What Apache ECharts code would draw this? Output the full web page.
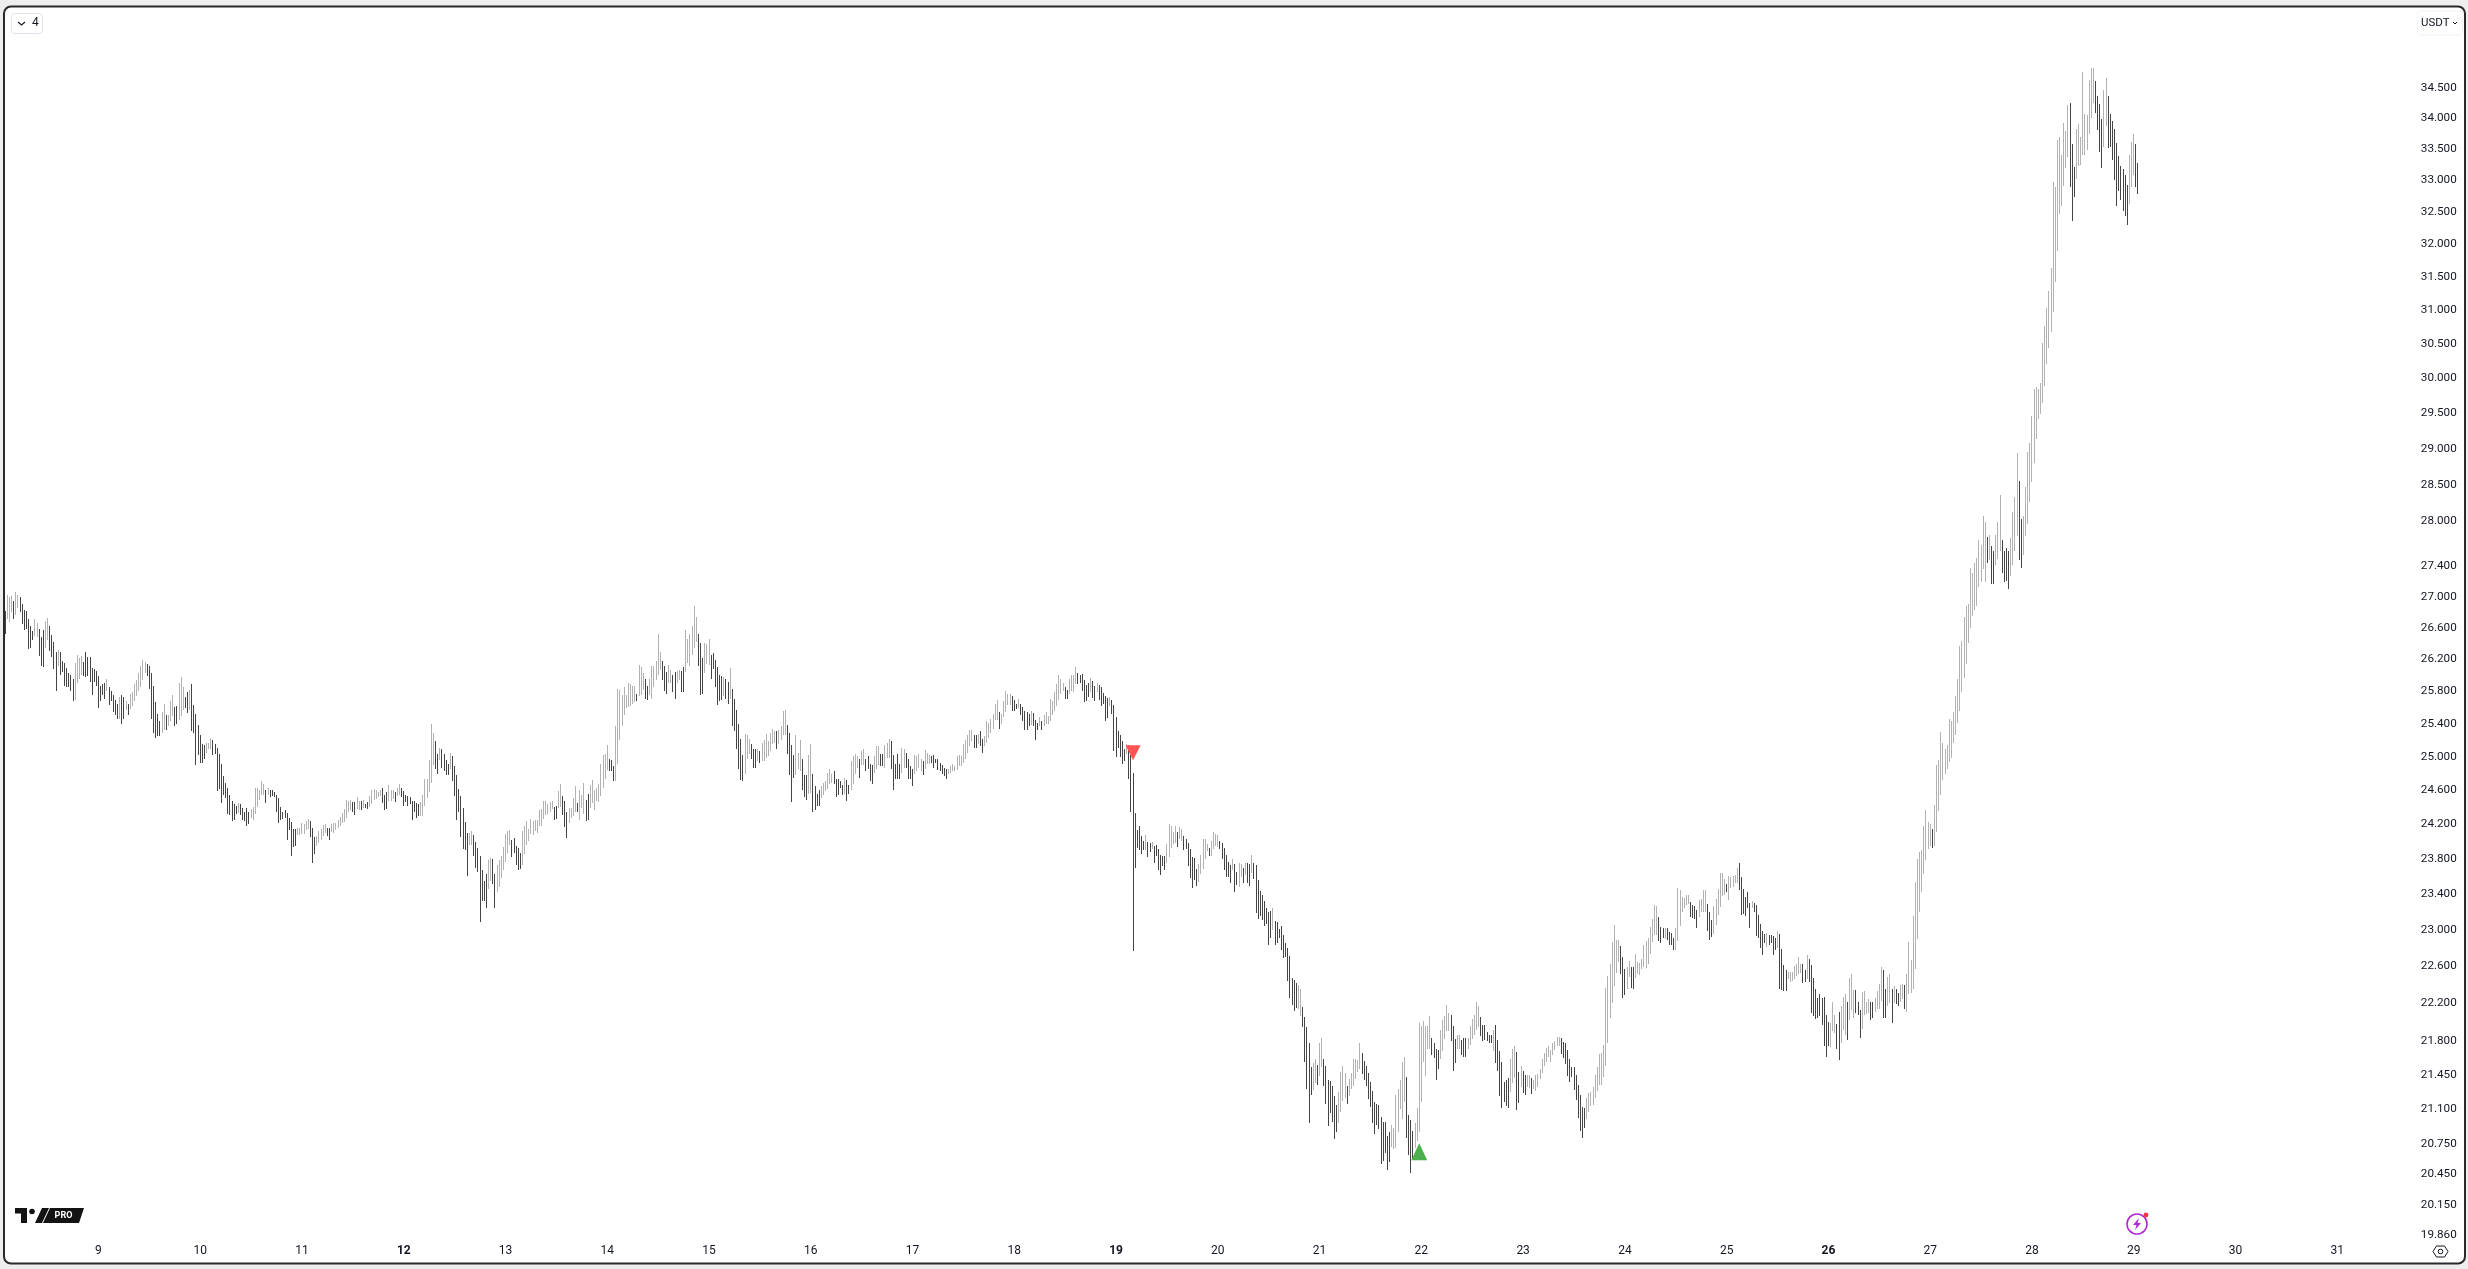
<!DOCTYPE html>
<html><head><meta charset="utf-8">
<style>html,body{margin:0;padding:0;background:#eeeeee}#c{width:2468px;height:1269px}</style>
<script src="https://cdn.jsdelivr.net/npm/echarts@6/dist/echarts.min.js"></script>
</head><body><div id="c"></div>
<script>
// Each bar is [first value, last value]: rising bars go low->high, falling bars go high->low.
const bars9to12 = [
26.82,26.53,26.71,27.03,26.68,27.0,26.81,27.02,26.95,26.72,26.77,27.06,26.86,27.03,27.0,26.8,26.91,26.65,26.83,26.58,
26.82,26.59,26.72,26.33,26.62,26.35,26.56,26.45,26.5,26.72,26.49,26.67,26.59,26.24,26.49,26.12,26.58,26.1,26.35,26.69,
26.45,26.73,26.62,26.31,26.51,26.23,26.42,26.08,26.3,25.81,26.12,26.32,26.3,26.01,26.18,26.04,26.15,25.87,26.09,25.85,
26.03,25.86,26.01,25.8,25.96,25.68,25.69,26.15,25.9,26.26,25.95,26.22,26.01,26.24,26.17,25.99,26.3,25.98,26.23,25.99,
26.23,25.92,26.09,25.75,26.08,25.92,26.05,25.87,25.99,25.59,25.87,25.68,25.89,25.76,25.9,25.71,25.8,25.96,25.85,25.63,
25.8,25.68,25.76,25.55,25.7,25.51,25.64,25.46,25.46,25.73,25.75,25.4,25.73,25.46,25.57,25.68,25.64,25.51,25.58,25.77,
25.62,25.79,25.68,25.89,25.74,25.94,25.8,26.03,25.85,26.12,25.94,26.19,26.03,26.17,26.14,25.99,26.12,25.83,26.03,25.46,
25.87,25.29,25.67,25.23,25.52,25.25,25.43,25.25,25.29,25.55,25.33,25.64,25.51,25.32,25.38,25.51,25.44,25.68,25.5,25.75,
25.61,25.37,25.62,25.4,25.45,25.91,25.5,25.98,25.57,25.86,25.73,25.59,25.79,25.53,25.57,25.82,25.89,25.31,25.63,25.29,
25.52,24.9,25.39,25.02,25.26,24.93,25.16,24.93,25.14,24.98,25.05,25.17,25.09,25.17,25.1,25.23,25.21,25.02,25.15,25.03,
25.11,24.59,25.04,24.62,24.91,24.45,24.77,24.55,24.69,24.51,24.63,24.32,24.54,24.31,24.47,24.24,24.44,24.25,24.42,24.32,
24.33,24.45,24.44,24.31,24.39,24.25,24.35,24.24,24.39,24.18,24.35,24.2,24.27,24.38,24.25,24.4,24.32,24.63,24.4,24.63,
24.49,24.61,24.54,24.71,24.54,24.68,24.61,24.45,24.55,24.63,24.61,24.52,24.6,24.53,24.58,24.52,24.55,24.35,24.51,24.22,
24.4,24.25,24.35,24.26,24.37,24.28,24.33,24.02,24.27,24.13,24.23,23.83,24.15,23.94,24.15,23.95,24.08,24.16,24.08,24.16,
24.09,24.22,24.09,24.2,24.13,24.24,24.15,24.26,24.24,24.05,24.16,23.75,24.05,23.86,23.95,24.06,23.99,24.12,24.02,24.15,
24.06,24.19,24.1,24.2,24.16,24.06,24.16,24.02,24.11,24.2,24.1,24.22,24.13,24.22,24.16,24.25,24.18,24.29,24.22,24.33,
24.23,24.38,24.27,24.49,24.34,24.48,24.37,24.49,24.46,24.34,24.46,24.31,24.38,24.52,24.37,24.47,24.47,24.37,24.39,24.49,
24.44,24.39,24.46,24.38,24.4,24.53,24.44,24.61,24.49,24.62,24.5,24.61,24.52,24.58,24.53,24.61,24.63,24.45,24.55,24.37,
24.58,24.38,24.47,24.66,24.48,24.61,24.5,24.61,24.58,24.46,24.53,24.63,24.55,24.67
];
const bars12to15 = [
24.63,24.52,24.59,24.41,24.55,24.46,24.53,24.42,24.52,24.44,24.48,24.25,24.47,24.35,24.45,24.27,24.44,24.3,24.3,24.46,
24.3,24.55,24.41,24.74,24.51,24.74,24.58,24.96,24.69,25.4,24.9,25.29,25.19,24.86,25.03,24.79,24.96,25.11,25.09,24.87,
25.03,24.83,24.96,24.78,24.91,24.78,24.86,25.05,25.01,24.71,24.89,24.53,24.78,24.25,24.62,24.35,24.53,24.05,24.39,23.91,
24.23,23.9,24.1,23.61,23.96,24.1,23.96,24.12,24.08,23.83,24.0,23.7,23.93,23.65,23.84,23.09,23.68,23.32,23.55,23.32,
23.63,23.24,23.46,23.79,23.55,23.81,23.8,23.51,23.63,23.24,23.43,23.73,23.48,23.79,23.58,23.83,23.68,23.94,23.77,24.09,
23.87,24.12,23.96,24.13,24.02,23.82,24.04,23.87,23.95,23.73,23.93,23.68,23.87,23.69,23.73,24.12,23.86,24.18,23.96,24.24,
24.01,24.15,24.09,24.26,24.08,24.24,24.12,24.25,24.1,24.25,24.18,24.37,24.18,24.38,24.26,24.48,24.31,24.47,24.32,24.44,
24.35,24.46,24.38,24.48,24.4,24.25,24.41,24.26,24.39,24.59,24.4,24.67,24.53,24.31,24.47,24.17,24.35,24.04,24.22,24.39,
24.27,24.39,24.3,24.51,24.34,24.65,24.45,24.34,24.25,24.6,24.39,24.54,24.32,24.69,24.49,24.24,24.56,24.25,24.39,24.66,
24.45,24.72,24.37,24.61,24.48,24.63,24.46,24.68,24.53,24.91,24.63,25.02,24.74,25.03,24.84,25.14,24.97,24.83,24.96,24.83,
24.89,24.71,24.71,25.38,24.91,25.83,25.21,25.82,25.37,25.75,25.51,25.85,25.59,25.76,25.61,25.9,25.62,25.89,25.64,25.87,
25.67,25.87,25.77,25.68,25.74,26.13,25.76,26.1,25.82,26.03,25.95,25.71,25.87,25.7,25.75,25.95,25.71,26.12,25.86,26.12,
25.94,26.18,26.0,26.53,26.07,26.3,26.18,25.94,26.12,25.81,26.04,25.77,25.9,26.13,25.91,26.07,26.0,25.79,26.04,25.71,
25.9,26.05,25.94,26.07,26.05,25.79,26.1,25.79,26.04,26.58,26.15,26.46,26.12,26.53,26.26,26.63,26.35,26.89,26.42,26.74,
26.53,26.12,26.41,25.76,26.22,25.77,26.03,26.41,26.14,26.4,26.13,26.46,26.26,25.96,26.28,26.08,26.19,25.86,26.1,25.63,
26.01,25.68,25.99,25.69,25.74,25.98,25.96,25.71,25.92,25.65,25.71,26.09,25.83,25.37,25.71,25.31,25.57,25.09,25.4,24.86,
25.22,24.72,25.02,24.71,24.79,25.28,24.97,25.27,25.03,25.22,25.16,24.97,25.1,24.87,25.1,24.87,24.95,25.1,25.07,24.93,
24.95,25.17,24.95,25.21,24.99,25.28,25.01,25.19,25.07,25.29,25.16,25.34,25.17,25.31,25.31,25.1,25.15,25.32,25.21,25.37,
25.26,25.56,25.26,25.57,25.39,25.04,25.29,24.78,25.14,24.46,25.02,24.75,24.78,25.27,24.85,25.05
];
const bars15to18 = [
24.83,25.21,24.97,24.61,24.78,24.52,24.78,24.49,24.56,25.02,24.57,25.15,24.79,24.34,24.65,24.37,24.56,24.41,24.61,24.41,
24.51,24.65,24.54,24.69,24.59,24.71,24.62,24.81,24.68,24.85,24.69,24.8,24.83,24.67,24.74,24.52,24.73,24.54,24.71,24.63,
24.66,24.55,24.56,24.75,24.72,24.47,24.66,24.56,24.6,24.95,24.68,25.01,24.8,25.04,24.87,25.01,24.98,24.75,24.9,25.07,
24.9,25.1,24.98,24.83,25.01,24.85,24.92,24.71,24.9,24.68,24.81,25.01,24.86,25.13,24.9,25.13,25.04,24.89,25.04,24.89,
24.87,25.14,24.99,25.17,24.99,25.22,25.19,24.85,25.02,24.6,24.92,24.73,25.04,24.74,24.92,24.74,24.81,25.11,24.87,25.1,
25.05,24.87,24.97,24.73,24.89,24.73,24.86,24.65,24.8,25.02,24.83,25.01,24.87,25.04,24.83,24.98,24.95,24.78,24.86,25.08,
24.92,25.05,24.92,25.02,25.01,24.93,25.02,24.87,24.98,24.93,24.98,24.84,24.93,24.83,24.9,24.79,24.87,24.77,24.85,24.73,
24.8,24.86,24.81,24.89,24.83,24.91,24.83,24.89,24.84,25.01,24.89,25.02,24.89,25.01,24.93,25.15,24.98,25.2,25.05,25.26,
25.13,25.33,25.19,25.32,25.27,25.11,25.27,25.11,25.16,25.28,25.31,25.13,25.22,25.05,25.13,25.25,25.17,25.43,25.23,25.41,
25.29,25.46,25.34,25.52,25.45,25.65,25.45,25.7,25.55,25.34,25.4,25.52,25.49,25.68,25.55,25.81,25.63,25.77,25.63,25.77,
25.74,25.56,25.7,25.56,25.65,25.58,25.59,25.71,25.64,25.51,25.61,25.43,25.56,25.32,25.55,25.32,25.52,25.37,25.39,25.56,
25.53,25.37,25.45,25.2,25.41,25.32,25.37,25.49,25.43,25.32,25.37,25.51,25.4,25.55,25.4,25.5,25.44,25.71,25.51,25.68,
25.56,25.79,25.62,25.89,25.7,26.01,25.77,25.95,25.8,25.91,25.86,25.71,25.82,25.71,25.77,25.95,25.81,26.01,25.79,26.0,
25.89,26.1,26.03,25.89
];
const bars18to22 = [
26.0,25.9,26.02,25.81,25.94,25.67,25.88,25.68,25.9,25.73,25.79,25.97,25.93,25.72,25.87,25.68,25.79,25.9,25.88,25.69,
25.86,25.62,25.78,25.64,25.74,25.43,25.72,25.47,25.62,25.73,25.69,25.52,25.63,25.07,25.48,25.0,25.31,25.11,25.27,25.0,
25.19,24.91,25.09,24.95,25.04,25.16,25.14,24.74,25.02,24.35,24.81,22.77,24.33,23.7,24.13,23.93,24.18,23.9,24.06,23.86,
24.01,23.9,23.9,24.08,24.0,23.82,23.99,23.88,23.92,24.0,23.95,23.75,23.96,23.83,23.91,23.67,23.85,23.62,23.84,23.72,
23.84,23.68,23.76,23.97,23.82,24.21,23.93,24.18,23.97,24.11,23.99,24.18,24.11,23.94,24.03,24.17,24.01,24.15,24.07,23.9,
24.03,23.92,23.99,23.72,23.92,23.58,23.82,23.47,23.81,23.56,23.69,23.49,23.54,23.74,23.63,23.85,23.69,24.03,23.8,24.03,
23.89,23.97,23.93,23.84,23.84,24.01,23.91,24.11,23.95,24.09,23.94,24.08,24.01,23.92,23.99,23.8,23.93,23.68,23.85,23.6,
23.77,23.6,23.73,23.53,23.67,23.8,23.74,23.43,23.65,23.5,23.48,23.76,23.6,23.74,23.7,23.53,23.62,23.76,23.75,23.53,
23.74,23.49,23.64,23.85,23.75,23.57,23.73,23.19,23.56,23.12,23.44,23.16,23.39,23.11,23.32,23.05,23.25,23.07,23.2,22.83,
23.21,22.91,23.0,23.25,23.1,22.84,23.09,22.86,23.01,22.91,23.05,22.78,22.94,22.69,22.86,22.7,22.8,22.44,22.71,22.26,
22.48,22.18,22.45,22.12,22.42,22.15,22.14,22.4,22.07,22.36,
22.16,21.95,22.06,21.58,21.95,21.3,21.78,20.96,21.53,21.24,21.29,21.57,21.37,21.61,21.55,21.35,21.44,21.78,21.53,21.83,
21.61,21.34,21.54,21.15,21.4,20.93,21.39,21.06,21.34,20.97,21.23,20.8,21.14,20.87,20.96,21.27,21.07,21.48,21.18,21.54,
21.21,21.47,21.34,21.15,21.23,21.41,21.3,21.47,21.34,21.61,21.41,21.62,21.48,21.6,21.51,21.78,21.68,21.46,21.59,21.4,
21.54,21.34,21.47,21.2,21.38,21.12,21.28,20.96,21.17,20.85,21.15,20.94,21.14,20.9,21.02,20.55,20.97,20.58,20.97,20.66,
20.83,20.49,20.87,20.57,20.72,20.94,20.7,20.91,20.71,21.24,20.87,21.3,21.1,21.4,21.0,21.58,21.17,21.64,21.43,20.81,
21.04,20.64,20.99,20.46,20.88,20.59,20.71,20.96,20.78,21.11,20.87,21.99,21.17,21.96,21.58,22.01,21.44,21.96,21.72,21.96,
21.72,22.07,21.83,21.66,21.78,21.63,21.72,21.4,21.71,21.51,21.62,21.92,21.7,22.03,21.82,22.07,21.91,22.18,21.91,22.1,
22.08,21.8,21.96,21.49,21.82,21.57,21.72,21.87,21.72,21.87,21.81,21.66,21.84,21.64,21.84,21.64,21.72,21.84,21.76,21.96,
21.82,22.04,21.87,22.08,21.92,22.22,21.95,22.17,22.06,21.86,21.97,21.8,21.97,21.81,21.9,21.8,21.87,21.78,21.87,21.78,
21.7,21.92,21.97,21.57,21.81,21.49,21.7,21.23,21.58,21.11,21.38,21.17,21.4,21.13,21.42,21.11,21.27,21.61,21.37,21.72,
21.42,21.75,21.69,21.09,21.48,21.16,21.33,21.54,21.49,21.26,21.45,21.24,21.33,21.45,21.32,21.45,21.42,21.25,21.31,21.4,
21.28,21.45,21.33,21.46
];
const bars22to26 = [
21.41,21.51,21.47,21.62,21.54,21.68,21.58,21.73,21.64,21.75,21.58,21.71,21.66,21.78,21.71,21.8,21.75,21.85,21.75,21.85,
21.84,21.67,21.79,21.63,21.78,21.56,21.71,21.44,21.62,21.38,21.53,21.43,21.53,21.29,21.45,21.19,21.35,21.01,21.24,20.88,
21.12,20.81,21.11,20.91,21.0,21.21,21.07,21.26,21.13,21.27,21.14,21.33,21.21,21.45,21.28,21.53,21.35,21.67,21.35,21.68,
21.43,21.76,21.54,22.37,21.78,22.5,22.05,22.63,22.21,22.87,22.39,23.06,22.53,22.89,22.65,22.89,22.82,22.52,22.7,22.26,
22.57,22.29,22.36,22.59,22.49,22.66,22.59,22.37,22.59,22.36,22.48,22.74,22.52,22.65,22.51,22.64,22.57,22.68,22.59,22.83,
22.58,22.88,22.63,22.91,22.74,23.03,22.87,23.12,22.95,23.28,22.95,23.27,23.15,22.88,23.03,22.86,23.02,22.91,22.9,23.02,
23.02,22.89,22.98,22.83,22.97,22.84,22.91,22.78,22.78,23.02,22.88,23.47,23.05,23.45,23.2,23.37,23.25,23.36,23.28,23.39,
23.29,23.39,23.31,23.14,23.28,23.13,23.27,23.12,23.22,23.02,23.15,23.34,23.2,23.35,23.2,23.45,23.2,23.45,23.29,22.99,
23.2,22.89,23.11,22.92,22.96,23.27,23.06,23.35,23.17,23.46,23.26,23.64,23.38,23.64,23.39,23.57,23.52,23.42,23.33,23.61,
23.47,23.6,23.48,23.61,23.53,23.62,23.53,23.7,23.75,23.45,23.6,23.17,23.46,23.18,23.37,23.16,23.42,23.25,23.3,23.02,
23.24,23.32,23.3,23.2,23.28,22.93,23.17,22.91,23.07,22.8,22.99,22.72,22.96,22.86,22.81,22.97,22.95,22.83,22.95,22.86,
22.93,22.72,22.91,22.78,22.8,22.99,22.96,22.36,22.79,22.35,22.62,22.33,22.56,22.33,22.46,22.54,22.43,22.54,22.44,22.54,
22.46,22.6,22.5,22.63,22.52,22.7,22.53,22.63,22.63,22.42,22.56,22.43,22.46,22.72,22.68,22.43,22.62,22.1,22.47,22.07,
22.36,22.04,22.26,22.05,22.3,22.07,22.26,21.97,22.27,21.75,22.08,21.64,22.0,21.75,21.74,21.99,21.91,22.22,21.89,22.08,
21.98,21.72,22.11,21.6,21.78,22.17,21.92,22.27,21.87,22.3,22.22,21.81,22.02,22.48,22.13,22.52,22.05,22.34,22.35,22.1,
22.22,22.08,22.13,21.84,21.93,22.32,22.08,22.33,22.09,22.22,22.1,22.25,22.22,22.03,22.22,22.05,22.11,22.26,22.14,22.33,
22.14,22.41,22.23,22.59,22.56,22.05,22.36,22.05,22.17,22.49,22.21,22.52,22.36,21.99,22.21,22.39,22.36,22.19,22.31,22.17,
22.22,22.4,22.25,22.41,22.4,22.14,22.11,22.52,22.3,22.87
];
const bars26to29 = [
22.31,22.67,22.36,23.16,22.57,23.54,22.9,23.8,23.2,23.88,23.42,23.9,23.63,24.18,23.79,24.37,23.91,24.23,23.95,24.2,
24.15,23.93,23.95,24.43,24.11,24.9,24.36,24.96,24.54,25.3,24.72,25.17,24.8,25.09,24.85,25.14,24.94,25.46,24.99,25.44,
25.17,25.54,25.27,25.74,25.41,25.96,25.56,26.37,25.79,26.43,25.97,26.74,26.14,26.89,26.41,26.91,26.6,27.38,26.76,27.32,
26.83,27.44,26.89,27.51,27.13,27.75,27.2,27.69,27.37,28.07,27.2,27.99,27.79,27.45,27.48,27.82,27.67,27.17,27.61,27.17,
27.42,27.82,27.5,27.99,27.6,28.36,27.75,27.31,27.61,27.2,27.65,27.21,27.61,27.11,27.28,27.78,27.42,28.13,27.6,28.33,
27.8,28.94,28.55,27.48,28.03,27.38,27.55,28.07,27.81,28.47,27.96,28.96,28.27,29.08,28.54,29.46,28.8,29.85,29.13,29.88,
29.41,29.85,29.49,29.93,29.65,30.51,29.89,30.77,30.21,31.03,30.44,31.28,30.68,31.63,30.97,32.98,31.43,32.9,31.89,33.65,
32.47,33.7,32.59,33.41,32.91,33.92,33.2,33.79,33.38,34.22,34.25,32.9,33.59,32.36,33.22,32.74,33.02,33.82,33.23,33.9,
33.25,33.7,33.41,34.77,33.41,34.07,33.49,34.05,33.75,34.63,34.0,34.84,34.25,34.84,34.62,34.08,34.37,33.81,34.23,33.46,
33.99,33.2,33.54,34.47,33.87,34.67,34.37,33.52,34.07,33.54,33.95,33.33,33.82,33.01,33.6,32.6,33.39,32.83,33.23,32.69,
33.18,32.52,33.09,32.44,32.93,32.3,32.63,33.41,32.9,33.62,33.09,33.74,33.59,32.9,33.28,32.79
];
const dayLabels = [9,10,11,12,13,14,15,16,17,18,19,20,21,22,23,24,25,26,27,28,29,30,31];
const weekStartDays = [12,19,26];
const priceTicks = [34.5,34,33.5,33,32.5,32,31.5,31,30.5,30,29.5,29,28.5,28,27.4,27,26.6,26.2,25.8,25.4,25,24.6,24.2,23.8,23.4,23,22.6,22.2,21.8,21.45,21.1,20.75,20.45,20.15,19.86];
const sellSignal = [532, 25.05];
const buySignal = [667, 20.67];

const flat = [].concat(bars9to12,bars12to15,bars15to18,bars18to22,bars22to26,bars26to29);
const barRows = [];
for (let i=0;i+1<flat.length;i+=2) barRows.push([i/2,flat[i],flat[i+1]]);
const SLOTS=1135, BARS_PER_DAY=48, FIRST_DAY_SLOT=44;
const categories=[];
for(let i=0;i<SLOTS;i++){
  const k=(i-FIRST_DAY_SLOT)/BARS_PER_DAY;
  categories.push(Number.isInteger(k)&&dayLabels[k]!==undefined?String(dayLabels[k]):'');
}
const chart=echarts.init(document.getElementById('c'),null,{renderer:'canvas'});
const FONT='Roboto';
const TEXT='#131722';
const UP='#b2b2b2', DOWN='#444444';
const hexagon=[[2433,1251.5],[2436.5,1246],[2444.5,1246],[2448,1251.5],[2444.5,1257],[2436.5,1257]];
function drawBar(params,api){
  const a=api.value(1), b=api.value(2);
  const top=api.coord([api.value(0),Math.max(a,b)]);
  const bot=api.coord([api.value(0),Math.min(a,b)]);
  const y0=Math.round(top[1]), y1=Math.round(bot[1]);
  return {type:'rect',shape:{x:Math.floor(top[0]),y:y0,width:1,height:Math.max(1,y1-y0)},
    style:{fill:b>=a?UP:DOWN}};
}
chart.setOption({
  animation:false,
  backgroundColor:'transparent',
  grid:{left:4.14,top:8,width:2406.2,height:1230,containLabel:false},
  xAxis:{type:'category',data:categories,position:'bottom',boundaryGap:true,z:6,
    axisLine:{show:false},axisTick:{show:false},splitLine:{show:false},
    axisLabel:{show:true,interval:(i,v)=>v!=='',hideOverlap:false,margin:7,color:TEXT,fontFamily:FONT,fontSize:12,
      formatter:v=>weekStartDays.includes(Number(v))?'{b|'+v+'}':v,
      rich:{b:{fontWeight:'bold',fontFamily:FONT,fontSize:12,color:TEXT}}}},
  yAxis:{type:'log',logBase:10,min:19.83,max:35.855,position:'right',
    axisLine:{show:false},axisTick:{show:false},splitLine:{show:false},minorTick:{show:false},
    axisLabel:{show:true,customValues:priceTicks,align:'right',margin:46.4,color:TEXT,fontFamily:FONT,fontSize:11.7,
      padding:[2,0,0,0],showMinLabel:true,showMaxLabel:true,hideOverlap:false,
      formatter:v=>Number(v).toFixed(3)}},
  series:[
    {type:'custom',data:barRows,renderItem:drawBar,encode:{x:0,y:[1,2]},clip:true,progressive:0,silent:true},
    {type:'scatter',data:[sellSignal],symbol:'triangle',symbolRotate:180,symbolSize:[15,15],itemStyle:{color:'#ff5252',opacity:1},z:4},
    {type:'scatter',data:[buySignal],symbol:'triangle',symbolSize:[16,17],itemStyle:{color:'#4caf50',opacity:1},z:4}
  ],
  graphic:{elements:[
    {type:'rect',silent:true,z2:-1,shape:{x:4,y:6.5,width:2461,height:1257,r:7},style:{fill:'#ffffff'}},
    {type:'rect',silent:true,z2:100,shape:{x:5,y:1238,width:2459,height:25},style:{fill:'#ffffff'}},
    {type:'rect',silent:true,z2:200,shape:{x:4,y:6.5,width:2461,height:1257,r:7},style:{fill:null,stroke:'#2a2a2e',lineWidth:2}},
    // interval button
    {type:'rect',silent:true,z2:150,shape:{x:11.5,y:13.5,width:31,height:20,r:3},style:{fill:'#fff',stroke:'#e0e3eb',lineWidth:1}},
    {type:'polyline',silent:true,z2:150,shape:{points:[[18,22],[21.5,25],[25,22]]},style:{fill:null,stroke:TEXT,lineWidth:1.1}},
    {type:'text',silent:true,z2:150,style:{x:32,y:17,text:'4',fill:TEXT,font:'12px '+FONT}},
    // currency button
    {type:'rect',silent:true,z2:150,shape:{x:2417.5,y:11,width:45,height:24,r:3},style:{fill:'#fff',stroke:'#f0f3fa',lineWidth:1}},
    {type:'text',silent:true,z2:150,style:{x:2421,y:17,text:'USDT',fill:'#131722',font:'11.5px '+FONT}},
    {type:'polyline',silent:true,z2:150,shape:{points:[[2453,22],[2455,24],[2457,22]]},style:{fill:null,stroke:TEXT,lineWidth:1}},
    // logo
    {type:'polygon',silent:true,z2:150,shape:{points:[[15,1208],[27,1208],[27,1223],[21,1223],[21,1213.5],[15,1213.5]]},style:{fill:'#131313'}},
    {type:'circle',silent:true,z2:150,shape:{cx:32,cy:1211.5,r:2.8},style:{fill:'#131313'}},
    {type:'polygon',silent:true,z2:150,shape:{points:[[42,1208],[49,1208],[42,1223],[35,1223]]},style:{fill:'#131313'}},
    {type:'polygon',silent:true,z2:150,shape:{points:[[50,1208],[84,1208],[79,1223],[43,1223]]},style:{fill:'#131313'}},
    {type:'text',silent:true,z2:160,style:{x:63.5,y:1215.5,text:'PRO',fill:'#fff',font:'bold 9px '+FONT,align:'center',verticalAlign:'middle'}},
    // settings hexagon
    {type:'polygon',silent:true,z2:150,shape:{points:hexagon},style:{fill:null,stroke:TEXT,lineWidth:1}},
    {type:'circle',silent:true,z2:150,shape:{cx:2440.5,cy:1251.5,r:2.3},style:{fill:null,stroke:TEXT,lineWidth:1}},
    // bolt badge
    {type:'circle',silent:true,z2:150,shape:{cx:2137,cy:1224,r:10},style:{fill:'#fff',stroke:'#b02ccf',lineWidth:1.6}},
    {type:'polygon',silent:true,z2:160,shape:{points:[[2139,1218],[2133,1225],[2136.5,1225],[2135,1230],[2141,1223],[2137.5,1223]]},style:{fill:'#b02ccf'}},
    {type:'circle',silent:true,z2:160,shape:{cx:2146,cy:1215,r:2.4},style:{fill:'#f23645'}}
  ]}
});
</script>
</body></html>
